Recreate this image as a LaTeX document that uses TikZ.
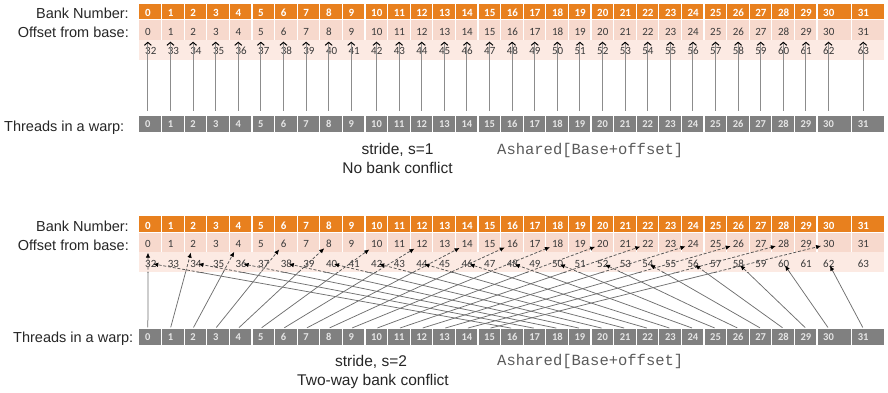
\documentclass[tikz,border=0pt]{standalone}
\usepackage{fontspec}
\setmainfont{Liberation Sans}
\setmonofont{Liberation Mono}
\newfontfamily\cellfont{Carlito}
\usetikzlibrary{arrows.meta}

\definecolor{bankorange}{HTML}{E8801E}
\definecolor{offsetpink}{HTML}{F7D9CD}
\definecolor{offsetpale}{HTML}{FCEAE3}
\definecolor{warpgray}{HTML}{808080}
\definecolor{linkgray}{HTML}{8C8C8C}
\definecolor{inkdark}{HTML}{262626}
\definecolor{digitdark}{HTML}{3A3A3A}
\definecolor{codegray}{HTML}{5A5A5A}

\tikzset{
  rowlabel/.style={anchor=base east, inner sep=0pt, text=inkdark, font=\fontsize{14.5}{17}\selectfont},
  captext/.style={anchor=base, inner sep=0pt, text=inkdark, font=\fontsize{15.5}{18}\selectfont},
  codelabel/.style={anchor=base west, inner sep=0pt, text=codegray, font=\ttfamily\fontsize{15.5}{18}\selectfont},
  banklbl/.style={anchor=west, inner xsep=0.5pt, inner ysep=1pt, text=white, font=\cellfont\bfseries\fontsize{11}{12}\selectfont, text height=7pt, text depth=0pt},
  offlbl/.style={anchor=west, inner xsep=0.5pt, inner ysep=3.5pt, text=digitdark, font=\cellfont\fontsize{11}{12}\selectfont, text height=7pt, text depth=0pt},
  thrlbl/.style={anchor=west, inner xsep=0.5pt, inner ysep=0pt, minimum height=16pt, text=white!90!black, font=\cellfont\bfseries\fontsize{10.5}{12}\selectfont, text height=7pt, text depth=0pt},
  cellsep/.style={white, line width=1.3pt},
  unitlink/.style={draw=linkgray, line width=0.9pt, shorten >=3pt, shorten <=5pt, -{Straight Barb[length=3pt,width=7pt,line width=1pt,color=black]}},
  stridelink/.style={draw=linkgray!80!black, line width=0.75pt, shorten <=1pt, -{Latex[length=5pt,width=4.5pt,color=black]}},
}

% One bank table: orange bank row, two offset rows, grey warp row.
% #1 = top edge of the bank row, #2 = prefix of the node names
\newcommand\banktable[2]{%
  \fill[bankorange] (139,#1) rectangle (884,#1+16.3);
  \fill[offsetpink] (139,#1+16.3) rectangle (884,#1+36);
  \fill[offsetpale] (139,#1+36) rectangle (884,#1+56);
  \fill[warpgray] (139,#1+112.5) rectangle (884,#1+128.5);
  \draw[cellsep] (139,#1+16.3) -- (884,#1+16.3);
  \foreach \i in {0,...,31} {%
    \pgfmathsetmacro\cl{\i<31 ? 139+22.6*\i : 851.7}%
    \pgfmathtruncatemacro\hi{\i+32}%
    \ifnum\i>0
      \draw[cellsep] (\cl,#1) -- (\cl,#1+36);
      \draw[cellsep] (\cl,#1+112.5) -- (\cl,#1+128.5);
    \fi
    \node[banklbl] (#2bk-\i) at (\cl+5.5,#1+9.5) {\i};
    \node[offlbl] (#2a-\i) at (\cl+5.5,#1+28) {\i};
    \node[offlbl] (#2b-\i) at (\cl+5.5,#1+47.5) {\hi};
    \node[thrlbl] (#2t-\i) at (\cl+5.5,#1+120.5) {\i};
  }%
}

% Stride-2 accesses: thread k reads offset 2k
\newcommand\stridearrows[1]{%
  \foreach \thr in {0,...,15} {%
    \pgfmathtruncatemacro\dst{2*\thr}%
    \draw[stridelink,#1,shorten >=1.5pt] (Bt-\thr.north) -- (Ba-\dst);
  }%
  \foreach \thr in {16,...,31} {%
    \pgfmathtruncatemacro\dst{2*\thr-32}%
    \draw[stridelink,#1,shorten >=2.5pt] (Bt-\thr.north) -- (Bb-\dst.center);
  }%
}

\begin{document}
\begin{tikzpicture}[x=1pt,y=-1pt]
\useasboundingbox (0,0) rectangle (888,392);

% ---------- stride 1 ----------
\banktable{3.5}{T}
\node[rowlabel] (bankT) at (129,18.5) {Bank Number:};
\node[rowlabel] (offT) at (129,37.5) {Offset from base:};
\node[rowlabel] (warpT) at (124.5,131.5) {Threads in a warp:};
\foreach \i in {0,...,31}
  \draw[unitlink] (Tt-\i.north) -- (Tt-\i.north |- Ta-\i.south);
\node[captext] (strideT) at (397.5,154.5) {stride, s=1};
\node[captext] (conflictT) at (397.5,173) {No bank conflict};
\node[codelabel] (codeT) at (497,154.5) {Ashared[Base+offset]};

% ---------- stride 2 ----------
\banktable{216}{B}
\node[rowlabel] (bankB) at (129,231.5) {Bank Number:};
\node[rowlabel] (offB) at (129,250) {Offset from base:};
\node[rowlabel] (warpB) at (133.5,342.5) {Threads in a warp:};
\begin{scope}
  \clip (0,272) rectangle (888,392);
  \stridearrows{}
\end{scope}
\begin{scope}
  \clip (0,200) rectangle (888,272);
  \stridearrows{draw=linkgray!60!black, dash pattern=on 3pt off 1.8pt}
\end{scope}
\node[captext] (strideB) at (371,366.5) {stride, s=2};
\node[captext] (conflictB) at (373,385.5) {Two-way bank conflict};
\node[codelabel] (codeB) at (497,365.5) {Ashared[Base+offset]};
\end{tikzpicture}
\end{document}
